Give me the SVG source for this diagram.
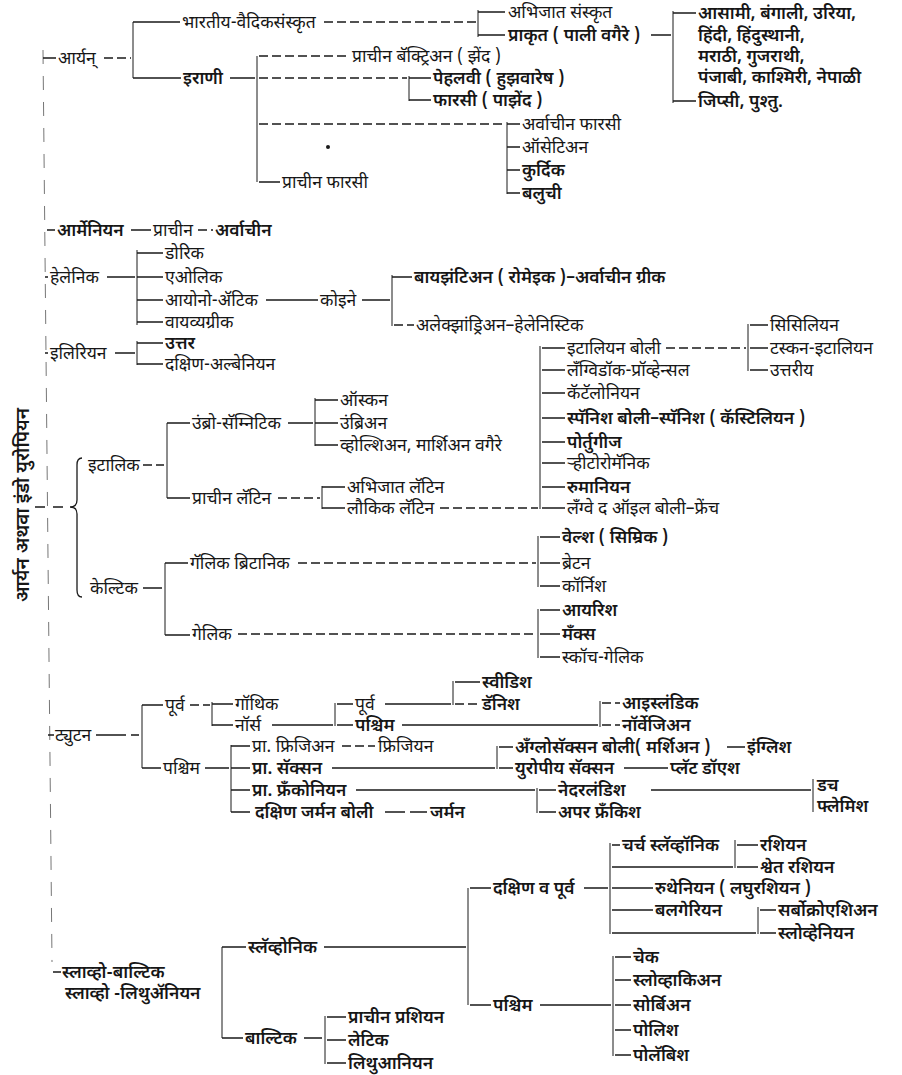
<svg xmlns="http://www.w3.org/2000/svg" width="902" height="1075" viewBox="0 0 902 1075">
<style>
text{font-family:"Noto Sans Devanagari","Noto Sans","DejaVu Sans",sans-serif;font-size:17.5px;fill:#161616}
.b{font-weight:600}
.c path{stroke:#1a1a1a;stroke-width:1.3;fill:none}
.c path.d{stroke-dasharray:9 4}
.c path.v{stroke-width:1}
.c path.m{stroke:#666;stroke-width:0.9;stroke-dasharray:14 12}
</style>
<rect width="902" height="1075" fill="#fff"/>
<g id="connectors" class="c">
<path class="m" d="M43,50 L52,962"/>
<!-- Aryan -->
<path d="M43,58 H56 M133,22 H180 M478,12 H505 M478,35 H505 M651,35 H671 M673,13 H696 M673,101 H696 M133,78 H181 M230,78 H255 M409,78 H431 M409,100 H431 M507,124 H520 M507,147 H520 M507,170 H520 M507,193 H520 M259,182 H280"/>
<path class="d" d="M104,58 H131 M324,22 H476 M259,56 H349 M259,78 H407 M259,124 H505"/>
<path class="v" d="M133,22 V78 M478,10 V37 M673,11 V103 M257,56 V182 M409,76 V101 M507,122 V194"/>
<circle cx="328" cy="147" r="2" fill="#1a1a1a"/>
<!-- Armenian -->
<path d="M47,230 H55 M131,230 H151"/>
<path class="d" d="M198,230 H213"/>
<!-- Hellenic -->
<path d="M45,277 H48 M107,277 H135 M137,253 H163 M137,277 H163 M137,300 H163 M137,322 H163 M266,300 H318 M362,300 H390 M392,277 H412"/>
<path class="d" d="M394,325 H414"/>
<path class="v" d="M137,250 V325 M392,275 V326"/>
<!-- Illyrian -->
<path d="M45,353 H48 M115,353 H135 M137,343 H163 M137,364 H163"/>
<path class="v" d="M137,341 V365"/>
<!-- Title and brace -->
<path d="M35,507 H45 M53,507 H63"/>
<path d="M82,458 Q77,458 77,465 V500 Q77,507 70,507 Q77,507 77,514 V590 Q77,597 82,597"/>
<!-- Italic -->
<path class="d" d="M143,465 H164"/>
<path d="M167,423 H190 M167,498 H190 M288,423 H313 M315,400 H338 M315,423 H338 M315,445 H338 M322,487 H345 M322,508 H345"/>
<path class="v" d="M167,423 V498 M315,398 V446 M322,486 V509 M540,346 V509 M748,324 V371"/>
<path class="d" d="M278,498 H320 M440,508 H538 M666,348 H746"/>
<path d="M542,348 H565 M542,370 H565 M542,393 H565 M542,418 H565 M542,442 H565 M542,463 H565 M542,487 H565 M542,508 H565 M750,325 H768 M750,348 H768 M750,370 H768"/>
<!-- Celtic -->
<path d="M143,588 H162 M165,563 H188 M165,635 H190 M540,537 H560 M540,563 H560 M540,586 H560 M540,610 H560 M540,634 H560 M540,657 H560"/>
<path class="v" d="M165,563 V635 M538,536 V587 M538,609 V658"/>
<path class="d" d="M298,563 H536 M238,634 H536"/>
<!-- Teutonic -->
<path d="M48,735 H54 M96,735 H126 M131,735 H139 M142,705 H163 M212,704 H233 M212,725 H233 M272,725 H333 M337,704 H353 M385,704 H451 M455,682 H480 M337,725 H353 M402,725 H598 M142,768 H161 M205,768 H229 M231,746 H250 M231,768 H250 M231,790 H250 M231,812 H250 M332,768 H495 M499,747 H513 M499,768 H513 M727,747 H745 M624,768 H668 M356,790 H535 M539,790 H556 M539,812 H556 M651,790 H811 M385,812 H405 M410,812 H427"/>
<path class="d" d="M190,705 H210 M455,704 H480 M602,703 H620 M602,725 H620 M342,746 H375"/>
<path class="v" d="M142,705 V768 M212,702 V726 M335,703 V726 M453,681 V705 M600,701 V727 M231,745 V812 M497,746 V769 M537,788 V813 M813,779 V812"/>
<!-- Slavo-Baltic -->
<path d="M53,972 H61 M222,947 H246 M324,947 H466 M470,888 H491 M584,888 H608 M612,845 H620 M612,867 H733 M737,845 H758 M737,867 H758 M612,888 H653 M612,910 H653 M612,933 H756 M760,910 H776 M760,933 H776 M470,1005 H491 M540,1005 H611 M615,957 H631 M615,980 H631 M615,1005 H631 M615,1030 H631 M615,1055 H631 M222,1038 H243 M304,1038 H322 M327,1017 H346 M327,1040 H346 M327,1063 H346"/>
<path class="v" d="M222,947 V1038 M468,888 V1005 M610,843 V934 M735,840 V868 M758,907 V934 M613,956 V1056 M325,1016 V1064"/>
</g>
<g id="title"><text transform="translate(29,505) rotate(-90)" text-anchor="middle" class="b" style="font-size:19px">आर्यन अथवा इंडो युरोपियन</text></g>
<!-- Aryan -->
<g id="n-aryan"><text x="58" y="64">आर्यन्</text></g>
<g id="n-bharatiya"><text x="182" y="28">भारतीय-वैदिकसंस्कृत</text></g>
<g id="n-abhijat-sanskrit"><text x="508" y="18">अभिजात संस्कृत</text></g>
<g id="n-prakrit"><text x="508" y="41" class="b">प्राकृत ( पाली वगैरे )</text></g>
<g id="n-modern-indian"><text x="698" y="19" class="b">आसामी, बंगाली, उरिया,</text><text x="698" y="41" class="b">हिंदी, हिंदुस्थानी,</text><text x="698" y="62" class="b">मराठी, गुजराथी,</text><text x="698" y="83" class="b">पंजाबी, काश्मिरी, नेपाळी</text></g>
<g id="n-gypsy"><text x="698" y="107" class="b">जिप्सी, पुश्तु.</text></g>
<g id="n-irani"><text x="183" y="84" class="b">इराणी</text></g>
<g id="n-bactrian"><text x="352" y="62">प्राचीन बॅक्ट्रिअन ( झेंद )</text></g>
<g id="n-pahlavi"><text x="433" y="84" class="b">पेहलवी ( हुझवारेष )</text></g>
<g id="n-farsi-pazend"><text x="433" y="106" class="b">फारसी ( पाझेंद )</text></g>
<g id="n-modern-farsi"><text x="522" y="130">अर्वाचीन फारसी</text></g>
<g id="n-ossetian"><text x="522" y="153">ऑसेटिअन</text></g>
<g id="n-kurdish"><text x="522" y="176" class="b">कुर्दिक</text></g>
<g id="n-baluchi"><text x="522" y="199" class="b">बलुची</text></g>
<g id="n-old-persian"><text x="282" y="188">प्राचीन फारसी</text></g>
<!-- Armenian -->
<g id="n-armenian"><text x="57" y="236" class="b">आर्मेनियन</text></g>
<g id="n-arm-old"><text x="153" y="236">प्राचीन</text></g>
<g id="n-arm-modern"><text x="215" y="236" class="b">अर्वाचीन</text></g>
<!-- Hellenic -->
<g id="n-hellenic"><text x="50" y="283">हेलेनिक</text></g>
<g id="n-doric"><text x="165" y="259">डोरिक</text></g>
<g id="n-aeolic"><text x="165" y="283">एओलिक</text></g>
<g id="n-ionic-attic"><text x="165" y="306">आयोनो-ॲटिक</text></g>
<g id="n-koine"><text x="320" y="306">कोइने</text></g>
<g id="n-nw-greek"><text x="165" y="328">वायव्यग्रीक</text></g>
<g id="n-byzantine"><text x="414" y="283" class="b">बायझंटिअन ( रोमेइक )–अर्वाचीन ग्रीक</text></g>
<g id="n-alexandrian"><text x="416" y="331">अलेक्झांड्रिअन–हेलेनिस्टिक</text></g>
<!-- Illyrian -->
<g id="n-illyrian"><text x="50" y="359">इलिरियन</text></g>
<g id="n-north"><text x="165" y="349" class="b">उत्तर</text></g>
<g id="n-albanian"><text x="165" y="370">दक्षिण-अल्बेनियन</text></g>
<!-- Italic -->
<g id="n-italic"><text x="88" y="471">इटालिक</text></g>
<g id="n-umbro-samnitic"><text x="192" y="429">उंब्रो-सॅम्निटिक</text></g>
<g id="n-oscan"><text x="340" y="406">ऑस्कन</text></g>
<g id="n-umbrian"><text x="340" y="429">उंब्रिअन</text></g>
<g id="n-volscian"><text x="340" y="451">व्होल्शिअन, मार्शिअन वगैरे</text></g>
<g id="n-old-latin"><text x="192" y="504">प्राचीन लॅटिन</text></g>
<g id="n-classical-latin"><text x="347" y="493">अभिजात लॅटिन</text></g>
<g id="n-vulgar-latin"><text x="347" y="514">लौकिक लॅटिन</text></g>
<g id="n-italian-dial"><text x="567" y="354">इटालियन बोली</text></g>
<g id="n-sicilian"><text x="770" y="331">सिसिलियन</text></g>
<g id="n-tuscan"><text x="770" y="354">टस्कन-इटालियन</text></g>
<g id="n-northern"><text x="770" y="376">उत्तरीय</text></g>
<g id="n-languedoc"><text x="567" y="376">लँग्विडॉक-प्रॉव्हेन्सल</text></g>
<g id="n-catalan"><text x="567" y="399">कॅटॅलोनियन</text></g>
<g id="n-spanish"><text x="567" y="424" class="b">स्पॅनिश बोली–स्पॅनिश ( कॅस्टिलियन )</text></g>
<g id="n-portuguese"><text x="567" y="448" class="b">पोर्तुगीज</text></g>
<g id="n-rhaeto"><text x="567" y="469">ऱ्हीटोरोमॅनिक</text></g>
<g id="n-rumanian"><text x="567" y="493" class="b">रुमानियन</text></g>
<g id="n-french"><text x="567" y="514">लँग्वे द ऑइल बोली–फ्रेंच</text></g>
<!-- Celtic -->
<g id="n-celtic"><text x="90" y="594">केल्टिक</text></g>
<g id="n-brythonic"><text x="190" y="569">गॅलिक ब्रिटानिक</text></g>
<g id="n-goidelic"><text x="192" y="640">गेलिक</text></g>
<g id="n-welsh"><text x="562" y="543" class="b">वेल्श ( सिम्रिक )</text></g>
<g id="n-breton"><text x="562" y="569">ब्रेटन</text></g>
<g id="n-cornish"><text x="562" y="592">कॉर्निश</text></g>
<g id="n-irish"><text x="562" y="616" class="b">आयरिश</text></g>
<g id="n-manx"><text x="562" y="640" class="b">मँक्स</text></g>
<g id="n-scotch"><text x="562" y="663">स्कॉच-गेलिक</text></g>
<!-- Teutonic -->
<g id="n-teutonic"><text x="55" y="741">ट्युटन</text></g>
<g id="n-east-g"><text x="165" y="711">पूर्व</text></g>
<g id="n-gothic"><text x="235" y="710">गॉथिक</text></g>
<g id="n-norse"><text x="235" y="731">नॉर्स</text></g>
<g id="n-norse-east"><text x="355" y="710">पूर्व</text></g>
<g id="n-norse-west"><text x="355" y="731" class="b">पश्चिम</text></g>
<g id="n-swedish"><text x="482" y="688" class="b">स्वीडिश</text></g>
<g id="n-danish"><text x="482" y="710" class="b">डॅनिश</text></g>
<g id="n-icelandic"><text x="622" y="709" class="b">आइस्लंडिक</text></g>
<g id="n-norwegian"><text x="622" y="731" class="b">नॉर्वेजिअन</text></g>
<g id="n-west-g"><text x="163" y="774">पश्चिम</text></g>
<g id="n-old-frisian"><text x="252" y="752">प्रा. फ्रिजिअन</text></g>
<g id="n-frisian"><text x="378" y="752">फ्रिजियन</text></g>
<g id="n-old-saxon"><text x="252" y="774" class="b">प्रा. सॅक्सन</text></g>
<g id="n-anglosaxon"><text x="515" y="753" class="b">अँग्लोसॅक्सन बोली( मर्शिअन )</text></g>
<g id="n-english"><text x="747" y="753" class="b">इंग्लिश</text></g>
<g id="n-euro-saxon"><text x="515" y="774" class="b">युरोपीय सॅक्सन</text></g>
<g id="n-plattdeutsch"><text x="670" y="774" class="b">प्लॅट डॉएश</text></g>
<g id="n-old-franconian"><text x="252" y="796" class="b">प्रा. फ्रँकोनियन</text></g>
<g id="n-netherlandish"><text x="558" y="796" class="b">नेदरलंडिश</text></g>
<g id="n-dutch"><text x="817" y="791" class="b">डच</text></g>
<g id="n-flemish"><text x="817" y="812" class="b">फ्लेमिश</text></g>
<g id="n-upper-frankish"><text x="558" y="818" class="b">अपर फ्रँकिश</text></g>
<g id="n-south-german"><text x="255" y="818" class="b">दक्षिण जर्मन बोली</text></g>
<g id="n-german"><text x="430" y="818" class="b">जर्मन</text></g>
<!-- Slavo-Baltic -->
<g id="n-slavo-baltic"><text x="62" y="978" class="b">स्लाव्हो-बाल्टिक</text><text x="65" y="999" class="b">स्लाव्हो -लिथुॲनियन</text></g>
<g id="n-slavonic"><text x="248" y="953" class="b">स्लॅव्होनिक</text></g>
<g id="n-south-east"><text x="493" y="894" class="b">दक्षिण व पूर्व</text></g>
<g id="n-church-slavonic"><text x="622" y="851" class="b">चर्च स्लॅव्हॉनिक</text></g>
<g id="n-russian"><text x="760" y="851" class="b">रशियन</text></g>
<g id="n-white-russian"><text x="760" y="873" class="b">श्वेत रशियन</text></g>
<g id="n-ruthenian"><text x="655" y="894" class="b">रुथेनियन ( लघुरशियन )</text></g>
<g id="n-bulgarian"><text x="655" y="916" class="b">बलगेरियन</text></g>
<g id="n-serbocroatian"><text x="778" y="916" class="b">सर्बोक्रोएशिअन</text></g>
<g id="n-slovenian"><text x="778" y="939" class="b">स्लोव्हेनियन</text></g>
<g id="n-west-slavic"><text x="493" y="1011" class="b">पश्चिम</text></g>
<g id="n-czech"><text x="633" y="963" class="b">चेक</text></g>
<g id="n-slovak"><text x="633" y="986" class="b">स्लोव्हाकिअन</text></g>
<g id="n-sorbian"><text x="633" y="1011" class="b">सोर्बिअन</text></g>
<g id="n-polish"><text x="633" y="1036" class="b">पोलिश</text></g>
<g id="n-polabian"><text x="633" y="1061" class="b">पोलॅबिश</text></g>
<g id="n-baltic"><text x="245" y="1044" class="b">बाल्टिक</text></g>
<g id="n-old-prussian"><text x="348" y="1023" class="b">प्राचीन प्रशियन</text></g>
<g id="n-lettic"><text x="348" y="1046" class="b">लेटिक</text></g>
<g id="n-lithuanian"><text x="348" y="1069" class="b">लिथुआनियन</text></g>
</svg>
